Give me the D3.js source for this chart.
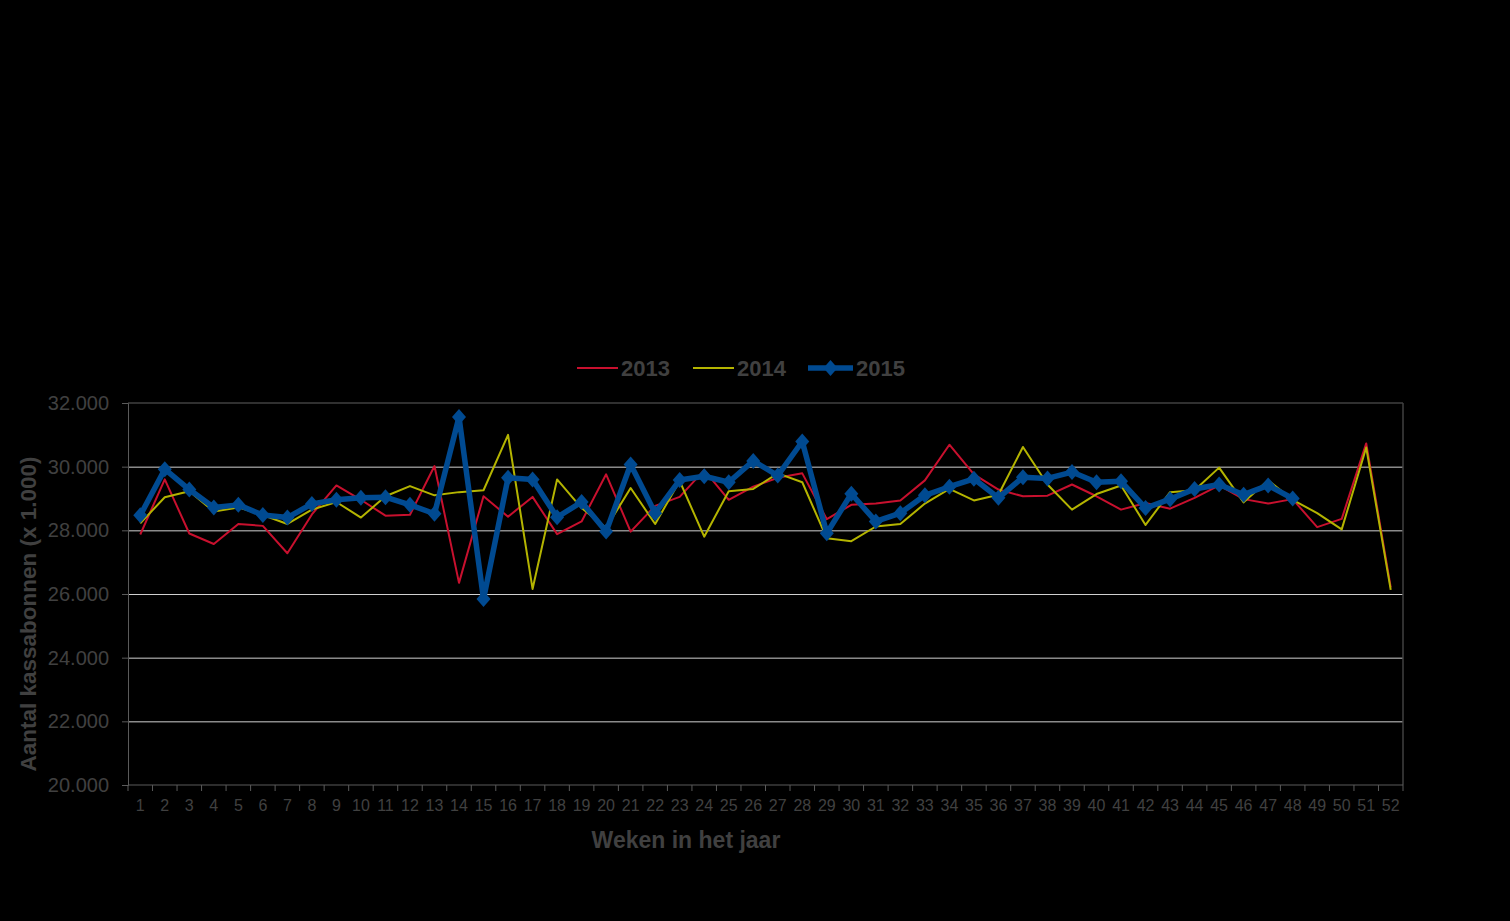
<!DOCTYPE html>
<html>
<head>
<meta charset="utf-8">
<script src="https://cdn.jsdelivr.net/npm/d3@7"></script>
<style>
  body { margin: 0; background: #000; }
  svg { display: block; font-family: "Liberation Sans", Arial, sans-serif; }
  .grid line { stroke: #d0d0d0; stroke-width: 1; }
  .grid path { display: none; }
</style>
</head>
<body>
<div id="chart"></div>
<script>
// weeks 1..52
var weeks = d3.range(1, 53);

var v2013 = [27870, 29600, 27900, 27570, 28200, 28140, 27280, 28500, 29410, 28960, 28460, 28490, 30020,
             26350, 29070, 28430, 29050, 27880, 28280, 29760, 27960, 28770, 29050, 29890, 28960, 29370,
             29650, 29790, 28350, 28800, 28840, 28940, 29570, 30690, 29760, 29280, 29070, 29090, 29440,
             29070, 28650, 28860, 28680, 29020, 29410, 28980, 28840, 28980, 28100, 28360, 30730, 26210];

var v2014 = [28220, 29040, 29230, 28590, 28720, 28480, 28200, 28650, 28890, 28400, 29070, 29390, 29100,
             29200, 29260, 31000, 26160, 29600, 28700, 28080, 29330, 28200, 29550, 27800, 29230, 29300,
             29790, 29510, 27750, 27660, 28120, 28200, 28840, 29300, 28940, 29120, 30620, 29440, 28650,
             29140, 29410, 28170, 29200, 29260, 29970, 28880, 29570, 28960, 28540, 28030, 30600, 26130];

// 2015 only goes to week 48
var v2015 = [28470, 29920, 29280, 28720, 28800, 28480, 28400, 28830, 28960, 29020, 29040, 28800, 28520,
             31560, 25840, 29650, 29600, 28410, 28890, 27960, 30070, 28540, 29580, 29700, 29510, 30180,
             29720, 30790, 27910, 29150, 28280, 28540, 29100, 29370, 29620, 29020, 29670, 29630, 29830,
             29510, 29540, 28700, 28980, 29300, 29440, 29120, 29410, 29000];

var yTicks = [20000, 22000, 24000, 26000, 28000, 30000, 32000];

var series = [
  { name: "2013", values: v2013, color: "#c8102e", width: 2, marker: false },
  { name: "2014", values: v2014, color: "#b4b400", width: 2, marker: false },
  { name: "2015", values: v2015, color: "#004a91", width: 5.5, marker: true }
];

var W = 1510, H = 921;
var plotLeft = 128, plotRight = 1403, plotTop = 403, plotBottom = 785;
var textColor = "#404040";
var diamond = "M0,-8L7,0L0,8L-7,0Z";

var nl = d3.formatLocale({ decimal: ",", thousands: ".", grouping: [3], currency: ["€", ""] });
var fmt = nl.format(",.0f");

var svg = d3.select("#chart")
  .append("svg")
    .attr("width", W)
    .attr("height", H);

svg.append("rect").attr("width", W).attr("height", H).attr("fill", "#000");

var x = d3.scaleBand()
  .domain(weeks)
  .range([plotLeft, plotRight])
  .padding(0);

var y = d3.scaleLinear()
  .domain([20000, 32000])
  .range([plotBottom, plotTop]);

// gridlines
svg.append("g")
  .attr("class", "grid")
  .attr("transform", "translate(" + plotLeft + ",0)")
  .call(d3.axisLeft(y).tickValues(yTicks.slice(1, 6)).tickSize(-(plotRight - plotLeft)).tickFormat(""));

// plot border top/right
svg.append("line")
  .attr("x1", plotLeft).attr("x2", plotRight).attr("y1", plotTop).attr("y2", plotTop)
  .attr("stroke", "#404040").attr("stroke-width", 1.5);
svg.append("line")
  .attr("x1", plotRight).attr("x2", plotRight).attr("y1", plotTop).attr("y2", plotBottom)
  .attr("stroke", "#404040").attr("stroke-width", 1.5);

// Y axis
var yAxis = svg.append("g")
  .attr("transform", "translate(" + plotLeft + ",0)")
  .call(d3.axisLeft(y).tickValues(yTicks).tickSize(6).tickPadding(13).tickFormat(fmt));
yAxis.select(".domain").attr("stroke", "#5a5a5a");
yAxis.selectAll(".tick line").attr("stroke", "#5a5a5a");
yAxis.selectAll("text")
  .attr("fill", textColor)
  .style("font-size", "20px");

// X axis: ticks on band boundaries
var xAxis = svg.append("g")
  .attr("transform", "translate(0," + plotBottom + ")");
xAxis.append("line")
  .attr("x1", plotLeft).attr("x2", plotRight)
  .attr("stroke", "#5a5a5a");
xAxis.selectAll(".xt")
  .data(weeks.concat([53]))
  .enter()
    .append("line")
    .attr("x1", d => d <= 52 ? x(d) : plotRight)
    .attr("x2", d => d <= 52 ? x(d) : plotRight)
    .attr("y1", 0).attr("y2", 6)
    .attr("stroke", "#5a5a5a");
xAxis.selectAll(".xl")
  .data(weeks)
  .enter()
    .append("text")
    .attr("x", d => x(d) + x.bandwidth() / 2)
    .attr("y", 26)
    .attr("text-anchor", "middle")
    .attr("fill", textColor)
    .style("font-size", "16px")
    .text(d => d);

// axis titles
svg.append("text")
  .attr("transform", "translate(" + 36 + "," + 614 + ") rotate(-90)")
  .attr("text-anchor", "middle")
  .attr("fill", textColor)
  .style("font-size", "22.5px")
  .style("font-weight", "bold")
  .text("Aantal kassabonnen (x 1.000)");

svg.append("text")
  .attr("x", 686)
  .attr("y", 848)
  .attr("text-anchor", "middle")
  .attr("fill", textColor)
  .style("font-size", "23px")
  .style("font-weight", "bold")
  .text("Weken in het jaar");

// lines
var line = d3.line()
  .x((d, i) => x(weeks[i]) + x.bandwidth() / 2)
  .y(d => y(d));

series.forEach(function (s) {
  svg.append("path")
    .datum(s.values)
    .attr("fill", "none")
    .attr("stroke", s.color)
    .attr("stroke-width", s.width)
    .attr("stroke-linejoin", "round")
    .attr("d", line);

  if (s.marker) {
    svg.append("g")
      .selectAll("path")
      .data(s.values)
      .enter()
        .append("path")
        .attr("transform", (d, i) => "translate(" + (x(weeks[i]) + x.bandwidth() / 2) + "," + y(d) + ")")
        .attr("d", diamond)
        .attr("fill", s.color);
  }
});

// legend
var legendX = [577, 693, 808];
var legend = svg.append("g");
series.forEach(function (s, i) {
  var lx = legendX[i];
  var len = s.marker ? 45 : 41;
  legend.append("line")
    .attr("x1", lx).attr("x2", lx + len)
    .attr("y1", 368).attr("y2", 368)
    .attr("stroke", s.color)
    .attr("stroke-width", s.width);
  if (s.marker) {
    legend.append("path")
      .attr("transform", "translate(" + (lx + len / 2) + ",368)")
      .attr("d", diamond)
      .attr("fill", s.color);
  }
  legend.append("text")
    .attr("x", lx + len + 3)
    .attr("y", 376)
    .attr("fill", textColor)
    .style("font-size", "22px")
    .style("font-weight", "bold")
    .text(s.name);
});
</script>
</body>
</html>
